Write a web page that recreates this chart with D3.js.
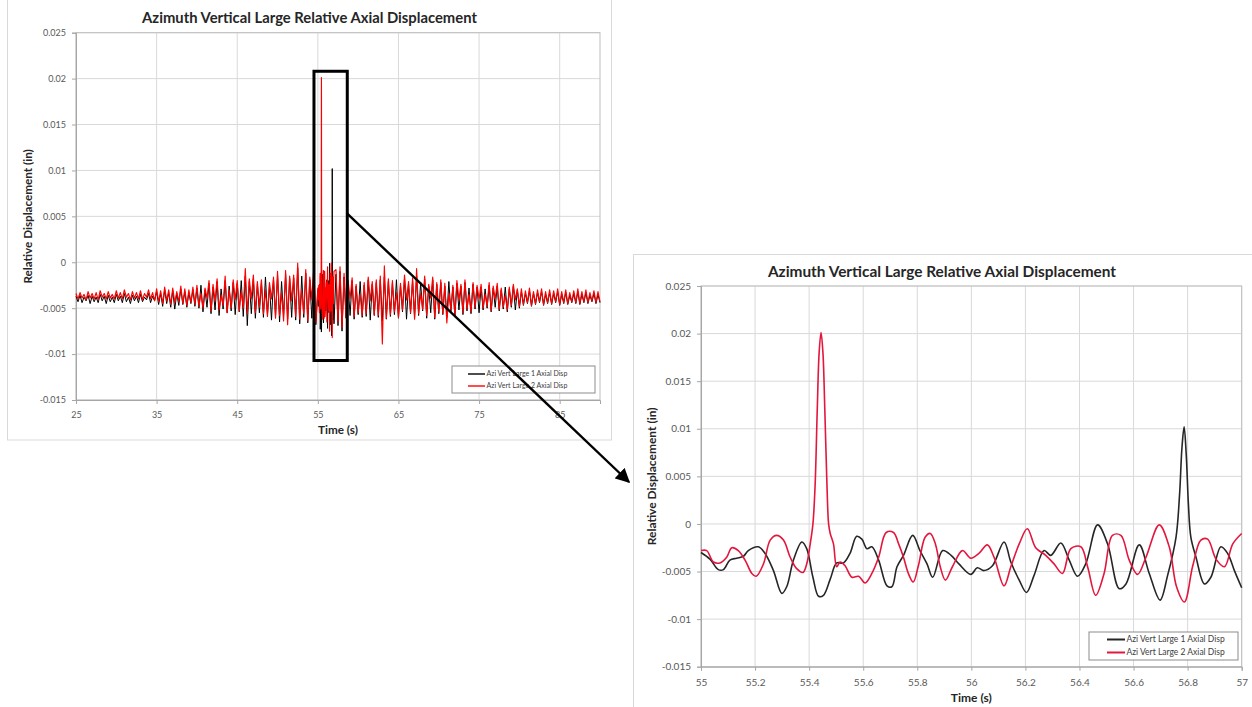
<!DOCTYPE html>
<html>
<head>
<meta charset="utf-8">
<script src="https://cdn.jsdelivr.net/npm/d3@7"></script>
<style>
  html, body { margin: 0; padding: 0; background: #fff; }
  svg { display: block; font-family: Lato, "Open Sans", sans-serif; }
</style>
</head>
<body>
<svg id="chart" width="1252" height="707"></svg>
<script>
// All displacement values are in thousandths of an inch.
const chartTitle = "Azimuth Vertical Large Relative Axial Displacement";
const seriesNames = ["Azi Vert Large 1 Axial Disp", "Azi Vert Large 2 Axial Disp"];
const yTickValues = [-0.015, -0.01, -0.005, 0, 0.005, 0.01, 0.015, 0.02, 0.025];
const yTickLabels = ["-0.015", "-0.01", "-0.005", "0", "0.005", "0.01", "0.015", "0.02", "0.025"];
const overviewTicks = [25, 35, 45, 55, 65, 75, 85];
const overviewTickLabels = ["25", "35", "45", "55", "65", "75", "85"];
const detailTicks = [55, 55.2, 55.4, 55.6, 55.8, 56, 56.2, 56.4, 56.6, 56.8, 57];
const detailTickLabels = ["55", "55.2", "55.4", "55.6", "55.8", "56", "56.2", "56.4", "56.6", "56.8", "57"];

// Overview record, sampled every 0.25 s: 25.00 .. 54.75 s and 57.25 .. 90.00 s
const overviewStep = 0.25;
const beforeStart = 25;
const afterStart = 57.25;

const large1Before = [
  -3.7,-4.3,-3.6,-4.4,-3.8,-4.2,-3.6,-4.5,-3.7,-4.3,-3.8,-4.4,-3.5,-4.2,-3.7,-4.5,-3.6,-4.3,-3.8,-4.4,
  -3.5,-4.2,-3.7,-4.4,-3.4,-4.3,-3.8,-4.5,-3.6,-4.2,-3.7,-4.4,-3.5,-4.3,-3.8,-4.1,-3.4,-4.4,-3.7,-4.2,
  -3.2,-4.6,-3.4,-4.8,-3.0,-4.5,-3.3,-4.9,-3.1,-5.1,-3.4,-4.7,-2.9,-4.6,-3.2,-4.9,-3.3,-4.5,-3.0,-4.8,
  -2.8,-5.0,-2.5,-5.4,-3.0,-4.9,-2.3,-5.6,-2.7,-5.2,-2.1,-5.8,-2.9,-5.1,-2.0,-5.5,-2.6,-5.3,-2.2,-5.7,
  -2.3,-5.4,-2.0,-5.9,-1.5,-6.9,-2.1,-5.6,-1.8,-6.1,-2.4,-5.5,
  -2.2,-6.0,-1.6,-5.7,-2.5,-6.3,-1.9,-5.9,-1.4,-6.5,-2.1,-5.8,-1.3,-6.2,-1.8,-6.0,
  -1.7,-6.3,-0.6,-6.7,-1.5,-6.0,-1.2,-6.6,-1.9,-6.1,-1.0,-6.8
];
const large2Before = [
  -3.4,-4.0,-3.3,-3.9,-3.5,-4.1,-3.2,-3.9,-3.4,-4.0,-3.3,-4.1,-3.1,-3.8,-3.4,-4.0,-3.2,-3.9,-3.5,-4.0,
  -3.1,-3.9,-3.3,-4.0,-3.0,-3.8,-3.4,-4.1,-3.2,-3.9,-3.3,-4.0,-3.1,-4.1,-3.4,-3.8,-3.0,-4.0,-3.3,-4.2,
  -2.9,-4.3,-3.1,-4.5,-2.7,-4.2,-3.0,-4.6,-2.8,-4.4,-3.2,-4.3,-2.6,-4.5,-2.9,-4.7,-3.0,-4.4,-2.7,-4.6,
  -2.5,-4.8,-3.4,-5.0,-2.8,-3.9,-2.0,-5.3,-2.4,-4.2,-1.8,-5.2,-3.6,-4.7,-1.5,-5.5,-3.0,-5.0,-1.9,-4.1,
  -2.0,-5.3,-3.2,-5.0,-0.7,-5.6,-1.8,-4.0,-1.4,-5.5,-2.1,-4.9,
  -1.9,-5.6,-3.0,-5.9,-2.2,-4.0,-1.6,-6.1,-1.0,-5.8,-3.3,-6.4,-0.9,-6.8,-1.5,-4.2,
  -1.4,-5.9,-0.1,-6.2,-3.0,-5.6,-0.8,-6.4,-1.6,-4.1,-0.5,-6.6
];
const large1After = [
  -1.3,-6.9,-1.0,-7.5,-1.6,
  -6.1,-2.3,-5.8,-2.0,-6.2,-2.6,-5.7,-2.1,-6.0,-2.5,-5.9,-1.9,-6.3,-2.4,-5.8,
  -2.2,-6.0,-1.9,-6.4,-1.6,-6.2,-2.1,-5.9,
  -2.3,-5.7,-1.9,-6.1,-2.5,-5.4,-1.8,-6.2,-2.4,-5.6,-2.0,-6.0,-1.5,-5.8,-2.2,-5.3,-1.8,-6.1,-2.6,-5.5,-1.9,-6.2,-2.4,-5.6,
  -2.2,-5.7,-2.6,-6.0,-2.1,-5.4,-2.7,-5.9,-2.3,-5.2,-2.6,-5.7,-2.2,-5.3,-2.8,-5.6,-2.4,-5.1,-2.7,-5.5,
  -2.7,-5.2,-2.9,-5.0,-2.5,-5.4,-2.8,-4.9,-2.6,-5.3,-3.0,-5.1,-2.7,-5.4,-2.9,-4.9,-2.6,-5.2,-3.0,-5.0,
  -3.2,-4.7,-3.4,-4.5,-3.1,-4.8,-3.4,-4.6,-3.3,-4.4,-3.2,-4.7,-3.5,-4.5,-3.3,-4.6,-3.4,-4.4,-3.2,-4.7,
  -3.5,-4.5,-3.3,-4.6,-3.6,-4.4,-3.4,-4.5,-3.2,-4.6,-3.5,-4.4,-3.3,-4.5,-3.6,-4.3,-3.4,-4.5,-3.5,-4.4
];
const large2After = [
  -0.8,-6.5,-0.5,-7.1,-1.2,
  -6.0,-2.0,-4.0,-1.7,-5.9,-2.4,-5.5,-3.5,-5.8,-2.2,-5.6,-1.6,-4.2,-2.1,-5.7,
  -1.9,-5.8,-1.5,-8.9,-0.4,-6.1,-1.8,-5.7,
  -2.0,-5.4,-3.3,-6.0,-2.3,-5.2,-1.4,-4.1,-2.1,-5.5,-1.7,-6.2,-0.7,-5.6,-3.4,-5.1,-1.5,-5.8,-2.4,-3.9,-1.6,-6.0,-2.2,-5.4,
  -1.9,-5.6,-2.3,-6.6,-3.4,-5.2,-2.5,-5.7,-2.0,-4.1,-2.4,-5.5,-1.9,-5.1,-3.5,-5.4,-2.2,-4.9,-2.5,-4.0,
  -2.4,-5.0,-3.5,-4.8,-2.2,-5.3,-2.6,-4.0,-2.3,-5.1,-2.8,-4.9,-3.6,-5.2,-2.7,-4.7,-2.4,-4.1,-2.9,-4.8,
  -2.9,-4.6,-3.1,-4.4,-2.8,-4.7,-3.2,-4.5,-3.0,-4.3,-2.9,-4.6,-3.2,-4.4,-3.0,-4.5,-3.1,-4.3,-2.9,-4.6,
  -3.2,-4.4,-3.0,-4.5,-3.3,-4.3,-3.1,-4.4,-2.9,-4.5,-3.2,-4.3,-3.0,-4.4,-3.3,-4.2,-3.1,-4.4,-3.2,-4.3
];

// Detail window 55 .. 57 s
const detailTime1 = [55.000,55.033,55.064,55.083,55.107,55.132,55.157,55.175,55.212,55.237,55.268,55.299,55.317,55.342,55.373,55.391,55.414,55.435,55.453,55.478,55.502,55.527,55.551,55.576,55.595,55.614,55.632,55.657,55.688,55.706,55.725,55.749,55.783,55.810,55.836,55.857,55.894,55.925,55.954,55.998,56.022,56.047,56.078,56.121,56.146,56.177,56.204,56.232,56.269,56.294,56.331,56.362,56.393,56.423,56.467,56.504,56.547,56.572,56.621,56.658,56.698,56.726,56.757,56.770,56.779,56.787,56.795,56.803,56.812,56.831,56.862,56.886,56.923,56.948,56.973,57.000];
const detailDisp1 = [-3.0,-3.7,-4.8,-4.8,-3.8,-3.6,-3.4,-2.8,-2.4,-3.1,-4.9,-7.3,-6.6,-3.8,-1.9,-2.6,-5.6,-7.6,-7.5,-5.8,-4.1,-4.1,-3.1,-1.3,-1.6,-2.6,-2.4,-3.8,-6.5,-6.6,-4.5,-3.3,-1.2,-2.8,-4.2,-5.6,-2.8,-3.3,-4.2,-5.3,-4.6,-4.9,-4.4,-1.9,-4.0,-5.9,-7.2,-5.4,-2.8,-3.3,-2.0,-3.8,-5.5,-4.2,-0.1,-2.1,-6.8,-6.3,-2.2,-5.2,-8.0,-5.4,-1.4,3.0,8.0,10.2,7.2,2.0,-1.4,-3.5,-6.3,-5.6,-2.4,-3.1,-4.9,-6.7];
const detailTime2 = [55.000,55.021,55.046,55.070,55.095,55.114,55.138,55.163,55.188,55.204,55.231,55.256,55.280,55.305,55.330,55.354,55.377,55.391,55.404,55.414,55.422,55.430,55.437,55.444,55.451,55.458,55.466,55.472,55.478,55.490,55.502,55.515,55.533,55.558,55.583,55.607,55.632,55.657,55.685,55.712,55.731,55.749,55.767,55.785,55.804,55.829,55.848,55.867,55.885,55.904,55.930,55.967,55.998,56.028,56.059,56.084,56.121,56.146,56.177,56.207,56.238,56.275,56.306,56.337,56.368,56.405,56.430,56.460,56.491,56.522,56.553,56.584,56.615,56.646,56.695,56.732,56.759,56.788,56.819,56.849,56.874,56.905,56.936,56.967,57.000];
const detailDisp2 = [-2.8,-2.8,-4.0,-4.1,-3.5,-2.5,-2.8,-3.8,-5.2,-5.5,-4.2,-1.7,-1.2,-1.7,-3.5,-4.7,-5.1,-4.2,-2.1,0.0,4.0,12.0,18.0,20.1,18.0,12.0,4.0,0.0,-1.0,-2.1,-4.5,-4.0,-4.4,-5.6,-5.5,-6.2,-5.2,-3.5,-0.9,-0.9,-2.1,-3.5,-5.2,-6.1,-4.4,-1.4,-1.0,-2.1,-4.5,-5.9,-4.5,-2.8,-3.6,-3.1,-2.2,-3.5,-6.5,-4.5,-2.1,-0.5,-2.5,-3.3,-4.2,-5.2,-2.6,-2.4,-4.5,-7.5,-5.2,-1.2,-1.2,-3.8,-5.3,-3.5,-0.1,-2.4,-6.6,-8.2,-4.4,-1.7,-1.6,-3.7,-4.5,-2.1,-1.0];

// ---------- helpers ----------
const toPoints = (times, disp) => disp.map((v, i) => ({ t: times[i], v: v / 1000 }));
const sampled = (start, disp) => disp.map((v, i) => ({ t: start + i * overviewStep, v: v / 1000 }));

const detail1 = toPoints(detailTime1, detailDisp1);
const detail2 = toPoints(detailTime2, detailDisp2);
const overview1 = sampled(beforeStart, large1Before).concat(detail1, sampled(afterStart, large1After));
const overview2 = sampled(beforeStart, large2Before).concat(detail2, sampled(afterStart, large2After));

const svg = d3.select("#chart");

function drawChart(cfg) {
  const g = svg.append("g");
  // chart frame
  g.append("rect")
    .attr("x", cfg.frame[0]).attr("y", cfg.frame[1])
    .attr("width", cfg.frame[2]).attr("height", cfg.frame[3])
    .attr("fill", "#fff").attr("stroke", "#d9d9d9").attr("stroke-width", 1);

  const x = d3.scaleLinear().domain(cfg.xDomain).range([cfg.left, cfg.right]);
  const y = d3.scaleLinear().domain([-0.015, 0.025]).range([cfg.bottom, cfg.top]);

  // grid
  g.append("g").selectAll("line").data(yTickValues).join("line")
    .attr("x1", cfg.left).attr("x2", cfg.right)
    .attr("y1", d => y(d)).attr("y2", d => y(d))
    .attr("stroke", "#d9d9d9").attr("stroke-width", 1);
  g.append("g").selectAll("line").data(cfg.xTicks).join("line")
    .attr("y1", cfg.top).attr("y2", cfg.bottom)
    .attr("x1", d => x(d)).attr("x2", d => x(d))
    .attr("stroke", "#d9d9d9").attr("stroke-width", 1);
  g.append("rect")
    .attr("x", cfg.left).attr("y", cfg.top)
    .attr("width", cfg.right - cfg.left).attr("height", cfg.bottom - cfg.top)
    .attr("fill", "none").attr("stroke", "#bfbfbf").attr("stroke-width", 1);

  // axes
  const yAxis = d3.axisLeft(y).tickValues(yTickValues)
    .tickFormat((d, i) => yTickLabels[i]).tickSize(4).tickPadding(cfg.tickPad);
  const xAxis = d3.axisBottom(x).tickValues(cfg.xTicks)
    .tickFormat((d, i) => cfg.xTickLabels[i]).tickSize(4).tickPadding(cfg.tickPadX);
  const ya = g.append("g").attr("transform", `translate(${cfg.left},0)`).call(yAxis);
  const xa = g.append("g").attr("transform", `translate(0,${cfg.bottom})`).call(xAxis);
  [ya, xa].forEach(a => {
    a.select(".domain").attr("stroke", "#a6a6a6");
    a.selectAll(".tick line").attr("stroke", "#a6a6a6");
    a.selectAll(".tick text").attr("fill", "#595959")
      .style("font-family", "Lato, sans-serif").style("font-size", cfg.tickFont + "px");
  });

  // series
  const line = d3.line().x(d => x(d.t)).y(d => y(d.v)).curve(cfg.curve);
  cfg.series.forEach(s => {
    g.append("path").datum(s.data)
      .attr("d", line).attr("fill", "none")
      .attr("stroke", s.color).attr("stroke-width", s.width)
      .attr("stroke-linejoin", "round");
  });

  // titles
  const plotCx = (cfg.left + cfg.right) / 2;
  g.append("text").attr("x", cfg.titleX).attr("y", cfg.titleY)
    .attr("text-anchor", "middle").attr("font-weight", "bold")
    .attr("font-size", cfg.titleFont).attr("fill", "#262626").text(chartTitle);
  g.append("text").attr("x", plotCx).attr("y", cfg.xTitleY)
    .attr("text-anchor", "middle").attr("font-weight", "bold")
    .attr("font-size", cfg.axisFont).attr("fill", "#262626").text("Time (s)");
  g.append("text")
    .attr("transform", `translate(${cfg.yTitleX},${(cfg.top + cfg.bottom) / 2}) rotate(-90)`)
    .attr("text-anchor", "middle").attr("font-weight", "bold")
    .attr("font-size", cfg.axisFont).attr("fill", "#262626").text("Relative Displacement (in)");

  // legend
  const lg = cfg.legend;
  g.append("rect").attr("x", lg.x).attr("y", lg.y).attr("width", lg.w).attr("height", lg.h)
    .attr("fill", "#fff").attr("stroke", "#8c8c8c").attr("stroke-width", 1);
  cfg.series.forEach((s, i) => {
    const ly = lg.y + lg.rowY[i];
    g.append("line").attr("x1", lg.x + lg.lineX[0]).attr("x2", lg.x + lg.lineX[1])
      .attr("y1", ly).attr("y2", ly).attr("stroke", s.color).attr("stroke-width", lg.lineW);
    g.append("text").attr("x", lg.x + lg.lineX[1] + 1.5).attr("y", ly + lg.font * 0.35)
      .attr("font-size", lg.font).attr("fill", "#404040").text(seriesNames[i]);
  });

  return { x, y };
}

// Full record
const overview = drawChart({
  frame: [7.5, -1.5, 604, 441.5],
  left: 76, right: 600, top: 32.7, bottom: 400,
  xDomain: [25, 90], xTicks: overviewTicks, xTickLabels: overviewTickLabels,
  tickFont: 9, tickPad: 6, tickPadX: 8,
  titleX: 309.5, titleY: 23, titleFont: 14.8, xTitleY: 434, yTitleX: 32, axisFont: 11.7,
  curve: d3.curveLinear,
  series: [{ data: overview1, color: "#000000", width: 1 }, { data: overview2, color: "#ff0000", width: 1.15 }],
  legend: { x: 452, y: 366, w: 143, h: 27, rowY: [8, 20], lineX: [16, 33], font: 7, lineW: 1.4 }
});

// Detail window
drawChart({
  frame: [633.5, 254.5, 640, 470],
  left: 701, right: 1241.7, top: 286, bottom: 666.7,
  xDomain: [55, 57], xTicks: detailTicks, xTickLabels: detailTickLabels,
  tickFont: 10, tickPad: 6, tickPadX: 8,
  titleX: 942, titleY: 277, titleFont: 15.4, xTitleY: 702, yTitleX: 656, axisFont: 12,
  curve: d3.curveCatmullRom.alpha(0.5),
  series: [{ data: detail1, color: "#262626", width: 1.6 }, { data: detail2, color: "#e3173e", width: 1.6 }],
  legend: { x: 1089, y: 632, w: 149, h: 28, rowY: [7.5, 20.5], lineX: [18, 36], font: 8.5, lineW: 2 }
});

// Zoom window marker and pointer arrow
const zoomWindow = { t0: 54.52, t1: 58.65, v0: -0.0107, v1: 0.0208, vArrow: 0.0053 };
const ox = overview.x, oy = overview.y;
svg.append("rect")
  .attr("x", ox(zoomWindow.t0)).attr("y", oy(zoomWindow.v1))
  .attr("width", ox(zoomWindow.t1) - ox(zoomWindow.t0))
  .attr("height", oy(zoomWindow.v0) - oy(zoomWindow.v1))
  .attr("fill", "none").attr("stroke", "#000").attr("stroke-width", 3);

svg.append("defs").append("marker")
  .attr("id", "head").attr("viewBox", "0 0 10 10")
  .attr("refX", 9).attr("refY", 5)
  .attr("markerWidth", 6).attr("markerHeight", 6)
  .attr("orient", "auto")
  .append("path").attr("d", "M0,0 L10,5 L0,10 Z").attr("fill", "#000");

svg.append("line")
  .attr("x1", ox(zoomWindow.t1)).attr("y1", oy(zoomWindow.vArrow))
  .attr("x2", 629).attr("y2", 482)
  .attr("stroke", "#000").attr("stroke-width", 2.4)
  .attr("marker-end", "url(#head)");
</script>
</body>
</html>
